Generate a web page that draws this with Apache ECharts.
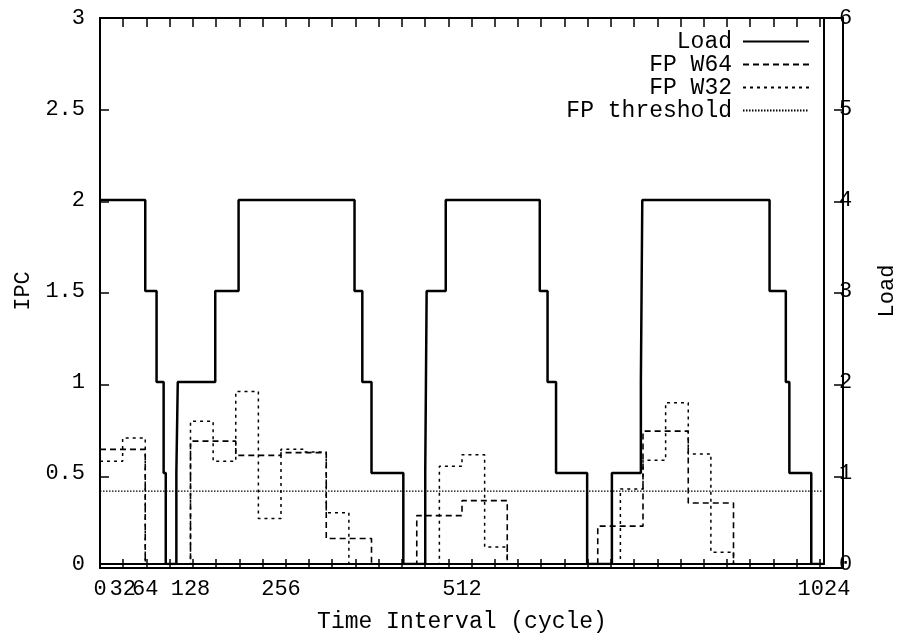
<!DOCTYPE html>
<html>
<head>
<meta charset="utf-8">
<script src="https://cdn.jsdelivr.net/npm/echarts@6/dist/echarts.min.js"></script>
<style>
  html, body { margin: 0; padding: 0; background: #ffffff; }
  #wrap { position: relative; width: 906px; height: 638px; }
  #chart, #frame { position: absolute; left: 0; top: 0; width: 906px; height: 638px; }
</style>
</head>
<body>
<div id="wrap">
  <div id="chart"></div>
  <div id="frame"></div>
</div>
<script>
// Load level: each value holds from its x until the next x
const loadX   = [0, 64, 80, 90, 93, 108, 110, 163, 196, 360, 371, 384, 429, 460, 461, 462, 489, 622, 633, 645, 689, 724, 765, 766, 767, 947, 970, 975, 1006, 1024];
const loadVal = [4, 3, 2, 1, 0, 1, 2, 3, 4, 3, 2, 1, 0, 1, 2, 3, 4, 3, 2, 1, 0, 1, 2, 3, 4, 3, 2, 1, 0, 0];

// FP IPC measured over 64-cycle windows
const w64Width = 64;
const w64Values = [0.63, 0, 0.675, 0.597, 0.612, 0.14, 0, 0.266, 0.348, 0, 0, 0.208, 0.73, 0.335, 0, 0];

// FP IPC measured over 32-cycle windows
const w32Width = 32;
const w32Values = [0.564, 0.692, 0, 0, 0.784, 0.565, 0.948, 0.25, 0.63, 0.615, 0.282, 0, 0, 0, 0, 0.537,
                   0.6, 0.094, 0, 0, 0, 0, 0, 0.412, 0.57, 0.886, 0.605, 0.065, 0, 0, 0, 0];

const fpThreshold = 0.4;

// Time axis: ticks every 32 cycles, labels only at these positions
const xMax = 1024;
const xTickStep = 32;
const xTickLabels = [0, 32, 64, 128, 256, 512, 1024];
const ipcMax = 3;
const loadMax = 6;

const FONT = '"Liberation Mono", "DejaVu Sans Mono", monospace';
const GRID = { left: 100, right: 63, top: 18, bottom: 70, containLabel: false };

function windowSteps(values, width) {
  const pts = values.map((v, i) => [i * width, v]);
  pts.push([values.length * width, values[values.length - 1]]);
  return pts;
}

const loadData = loadX.map((x, i) => [x, loadVal[i]]);

function frameLine() {
  return { show: true, onZero: false, lineStyle: { color: '#000', width: 2 } };
}

// Main plot: curves, labels, axis titles and legend
const chart = echarts.init(document.getElementById('chart'), null, { renderer: 'canvas' });
chart.setOption({
  backgroundColor: '#ffffff',
  animation: false,
  textStyle: { fontFamily: FONT, color: '#000' },
  grid: GRID,
  legend: {
    orient: 'vertical',
    align: 'right',
    right: 91,
    top: 25,
    itemWidth: 66,
    itemHeight: 14,
    itemGap: 0,
    itemStyle: { opacity: 0 },
    textStyle: { fontFamily: FONT, fontSize: 23, color: '#000', lineHeight: 23, padding: [0, 6, 0, 0] },
    data: ['Load', 'FP W64', 'FP W32', 'FP threshold']
  },
  xAxis: [
    {
      type: 'value',
      min: 0, max: xMax, interval: xTickStep,
      position: 'bottom',
      name: 'Time Interval (cycle)',
      nameLocation: 'middle',
      nameGap: 46,
      nameTextStyle: { fontFamily: FONT, fontSize: 23, color: '#000' },
      axisLine: frameLine(),
      axisTick: { show: false },
      splitLine: { show: false },
      axisLabel: {
        margin: 14,
        fontFamily: FONT, fontSize: 22, color: '#000',
        formatter: v => (xTickLabels.indexOf(v) >= 0 ? String(v) : '')
      }
    },
    {
      type: 'value',
      min: 0, max: xMax, interval: xTickStep,
      position: 'top',
      axisLine: frameLine(),
      axisTick: { show: false },
      splitLine: { show: false },
      axisLabel: { show: false }
    }
  ],
  yAxis: [
    {
      type: 'value',
      min: 0, max: ipcMax, interval: 0.5,
      position: 'left',
      name: 'IPC',
      nameLocation: 'middle',
      nameRotate: 90,
      nameGap: 66,
      nameTextStyle: { fontFamily: FONT, fontSize: 22, color: '#000' },
      axisLine: frameLine(),
      axisTick: { show: false },
      splitLine: { show: false },
      axisLabel: { margin: 15, fontFamily: FONT, fontSize: 22, color: '#000' }
    },
    {
      type: 'value',
      min: 0, max: loadMax, interval: 1,
      position: 'right',
      name: 'Load',
      nameLocation: 'middle',
      nameRotate: 90,
      nameGap: 52,
      nameTextStyle: { fontFamily: FONT, fontSize: 22, color: '#000' },
      axisLine: frameLine(),
      axisTick: { show: false },
      splitLine: { show: false },
      axisLabel: { margin: 15, fontFamily: FONT, fontSize: 22, color: '#000' }
    }
  ],
  series: [
    {
      name: 'Load',
      type: 'line',
      yAxisIndex: 1,
      step: 'end',
      symbol: 'none',
      data: loadData,
      lineStyle: { color: '#000', width: 2.5, type: 'solid' },
      itemStyle: { color: '#000' },
      z: 5
    },
    {
      name: 'FP W64',
      type: 'line',
      step: 'end',
      symbol: 'none',
      data: windowSteps(w64Values, w64Width),
      lineStyle: { color: '#000', width: 1.6, type: [6, 4] },
      itemStyle: { color: '#000' },
      z: 4
    },
    {
      name: 'FP W32',
      type: 'line',
      step: 'end',
      symbol: 'none',
      data: windowSteps(w32Values, w32Width),
      lineStyle: { color: '#000', width: 1.5, type: [3, 4] },
      itemStyle: { color: '#000' },
      z: 3
    },
    {
      name: 'FP threshold',
      type: 'line',
      symbol: 'none',
      data: [[0, fpThreshold], [xMax, fpThreshold]],
      lineStyle: { color: '#000', width: 1.2, type: [1.5, 1.5] },
      itemStyle: { color: '#000' },
      z: 2
    }
  ]
});

// Frame overlay: same grid, draws the inward tick marks on all four sides
function frameTicks() {
  return { show: true, inside: true, length: 9, lineStyle: { color: '#000', width: 1.5 } };
}
const frame = echarts.init(document.getElementById('frame'), null, { renderer: 'canvas' });
frame.setOption({
  animation: false,
  grid: GRID,
  xAxis: [
    { type: 'value', min: 0, max: xMax, interval: xTickStep, position: 'bottom',
      axisLine: frameLine(), axisTick: frameTicks(), splitLine: { show: false }, axisLabel: { show: false } },
    { type: 'value', min: 0, max: xMax, interval: xTickStep, position: 'top',
      axisLine: frameLine(), axisTick: frameTicks(), splitLine: { show: false }, axisLabel: { show: false } }
  ],
  yAxis: [
    { type: 'value', min: 0, max: ipcMax, interval: 0.5, position: 'left',
      axisLine: frameLine(), axisTick: frameTicks(), splitLine: { show: false }, axisLabel: { show: false } },
    { type: 'value', min: 0, max: loadMax, interval: 1, position: 'right',
      axisLine: frameLine(), axisTick: frameTicks(), splitLine: { show: false }, axisLabel: { show: false } }
  ],
  series: []
});
</script>
</body>
</html>
